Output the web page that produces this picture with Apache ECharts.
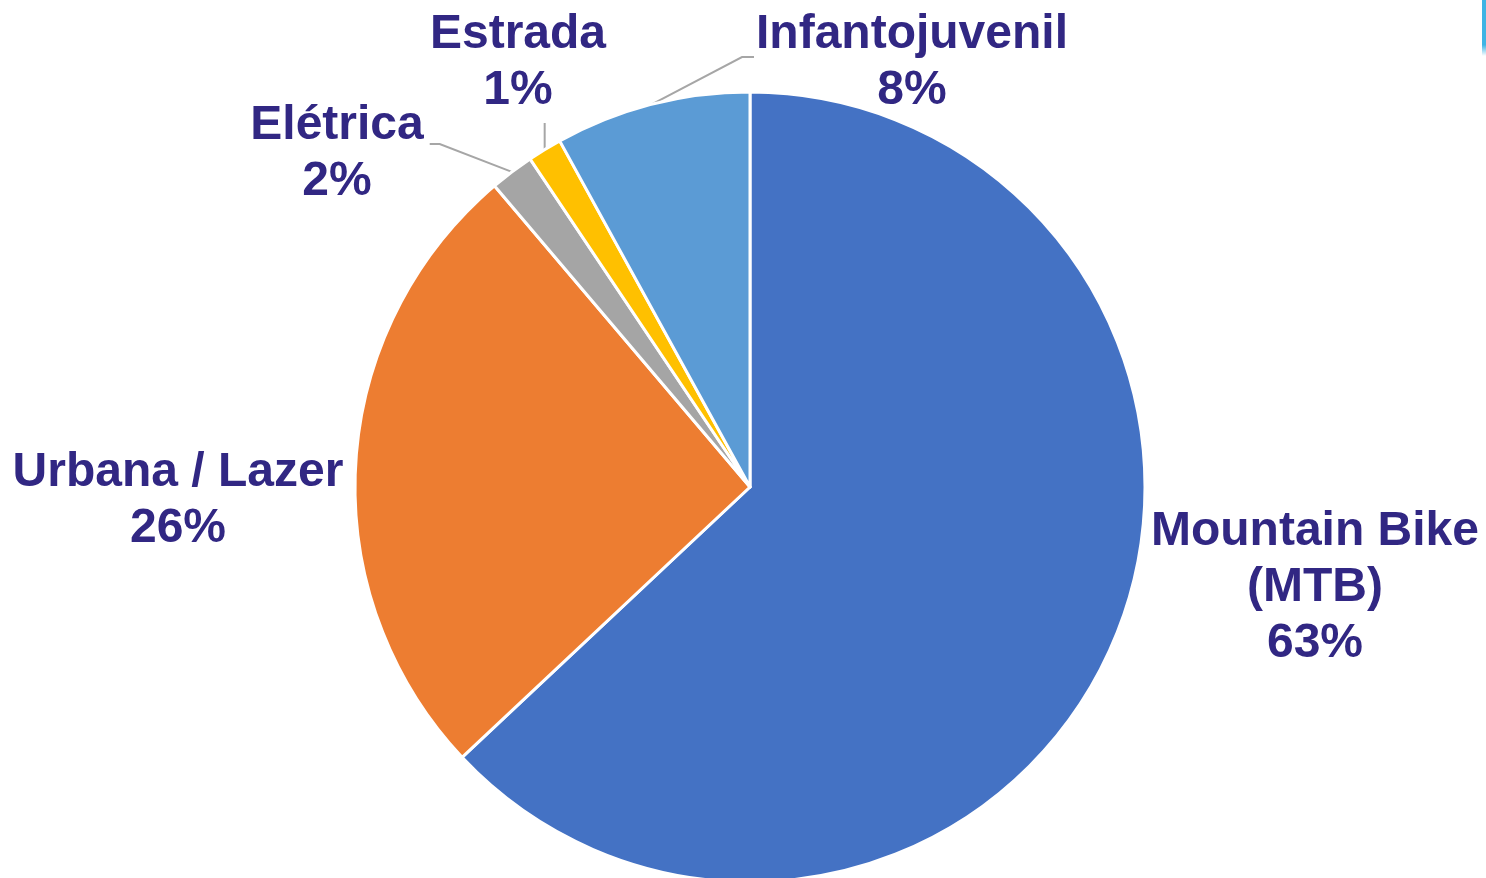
<!DOCTYPE html>
<html>
<head>
<meta charset="utf-8">
<script src="https://cdn.jsdelivr.net/npm/echarts@6/dist/echarts.min.js"></script>
<style>
html,body{margin:0;padding:0;background:#fff;}
#chart{width:1486px;height:878px;}
</style>
</head>
<body>
<div id="chart"></div>
<script>
// Data
const categories = ['Mountain Bike\n(MTB)', 'Urbana / Lazer', 'Elétrica', 'Estrada', 'Infantojuvenil'];
const shares = [63.0, 25.8, 1.8, 1.4, 8.0];
const sliceColors = ['#4472C4', '#ED7D31', '#A5A5A5', '#FFC000', '#5B9BD5'];
const showLeader = [false, false, true, true, true];
// label block centres (layout, px)
const labelCenters = [[1315, 588], [178, 501], [337, 154], [518, 63], [912, 63]];

const chart = echarts.init(document.getElementById('chart'));

const option = {
  animation: false,
  backgroundColor: '#ffffff',
  graphic: [{
    type: 'rect',
    shape: {x: 1482, y: 0, width: 4, height: 56},
    style: {fill: new echarts.graphic.LinearGradient(0, 0, 0, 1, [
      {offset: 0, color: '#3FB4E4'}, {offset: 0.8, color: '#3FB4E4'}, {offset: 1, color: 'rgba(63,180,228,0)'}
    ])}
  }],
  series: [{
    type: 'pie',
    center: [750, 487],
    radius: 395,
    startAngle: 90,
    clockwise: true,
    avoidLabelOverlap: false,
    itemStyle: {borderColor: '#ffffff', borderWidth: 3},
    label: {
      show: true,
      position: 'outside',
      color: '#312783',
      fontFamily: 'Liberation Sans, Arial, sans-serif',
      fontWeight: 'bold',
      fontSize: 48,
      lineHeight: 56,
      formatter: p => p.name + '\n' + Math.round(p.percent) + '%'
    },
    labelLine: {show: true, length: 20, length2: 10, lineStyle: {color: '#A6A6A6', width: 2}},
    labelLayout: function (params) {
      const i = params.dataIndex;
      const c = labelCenters[i];
      const w = params.labelRect.width, h = params.labelRect.height;
      const res = {x: c[0], y: c[1], align: 'center', verticalAlign: 'middle'};
      const pts = params.labelLinePoints;
      if (showLeader[i] && pts && pts.length) {
        const s = pts[0];
        const lx = c[0] - w / 2, rx = c[0] + w / 2, by = c[1] + h / 2;
        if (s[0] < lx) {
          const e = [lx - 2, c[1] - 6];
          res.labelLinePoints = [s, [e[0] - 12, e[1]], e];
        } else if (s[0] > rx) {
          const e = [rx + 6, c[1] - 10];
          res.labelLinePoints = [s, [e[0] + 10, e[1]], e];
        } else {
          res.labelLinePoints = [s, [s[0], by + 4]];
        }
      }
      return res;
    },
    data: categories.map((n, i) => ({
      name: n,
      value: shares[i],
      itemStyle: {color: sliceColors[i]},
      labelLine: {show: showLeader[i]}
    }))
  }]
};
chart.setOption(option);
</script>
</body>
</html>
